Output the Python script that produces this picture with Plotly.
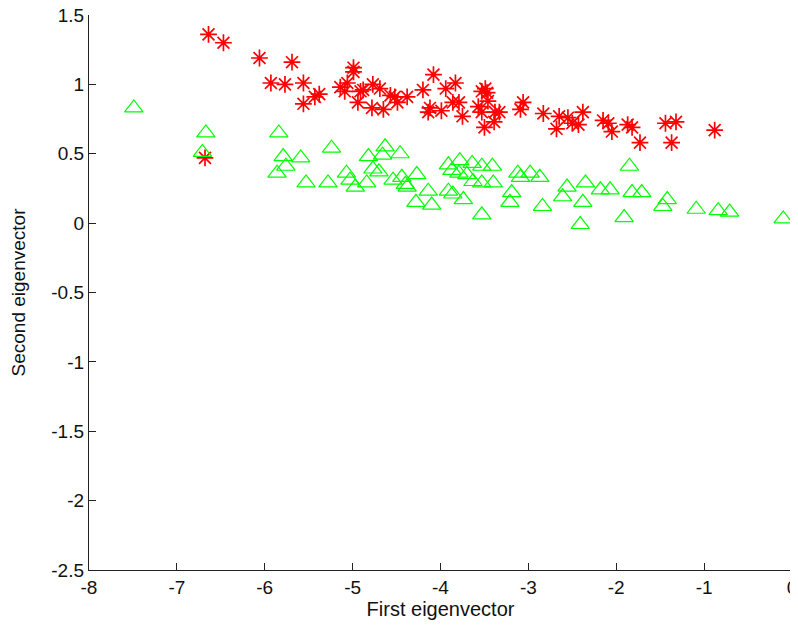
import plotly.graph_objects as go

# Class 1 (red asterisks)
red_x = [-6.64, -6.47, -6.06, -5.69, -5.93, -5.77, -5.56, -5.56, -5.43, -5.38,
         -4.99, -4.99, -5.14, -5.06, -5.09, -4.91, -4.88, -4.94, -4.78, -4.77,
         -4.69, -4.65, -4.57, -4.52, -4.49, -4.38, -4.20, -4.08, -4.12, -4.14,
         -3.94, -3.83, -3.99, -3.86, -3.79, -3.75, -3.53, -3.47, -3.49, -3.46,
         -3.57, -3.53, -3.38, -3.33, -3.39, -3.50, -3.06, -3.09, -2.83, -2.65,
         -2.55, -2.50, -2.68, -2.43, -2.38, -2.15, -2.09, -2.05, -1.87, -1.82,
         -1.73, -1.44, -1.32, -1.37, -0.88, -6.68]
red_y = [1.36, 1.30, 1.19, 1.16, 1.01, 1.00, 1.01, 0.86, 0.91, 0.93,
         1.12, 1.09, 0.98, 1.01, 0.95, 0.95, 0.96, 0.87, 0.83, 1.00,
         0.97, 0.82, 0.92, 0.91, 0.87, 0.91, 0.96, 1.07, 0.83, 0.80,
         0.97, 1.01, 0.81, 0.87, 0.87, 0.77, 0.95, 0.94, 0.97, 0.88,
         0.84, 0.80, 0.80, 0.80, 0.73, 0.69, 0.87, 0.82, 0.79, 0.77,
         0.76, 0.72, 0.68, 0.71, 0.80, 0.74, 0.72, 0.66, 0.71, 0.69,
         0.58, 0.72, 0.73, 0.58, 0.67, 0.47]

# Class 2 (green triangles)
green_x = [-7.49, -6.67, -6.71, -5.84, -5.24, -5.79, -5.76, -5.86, -5.59, -5.53,
           -5.28, -5.07, -5.03, -4.97, -4.84, -4.82, -4.77, -4.70, -4.63, -4.66,
           -4.46, -4.54, -4.44, -4.40, -4.38, -4.27, -4.28, -4.14, -4.10, -3.91,
           -3.87, -3.78, -3.64, -3.53, -3.41, -3.79, -3.70, -3.63, -3.53, -3.40,
           -3.91, -3.86, -3.74, -3.53, -3.12, -3.09, -2.98, -2.87, -3.19, -3.21,
           -2.84, -2.56, -2.61, -2.35, -2.18, -2.07, -2.38, -2.41, -1.85, -1.82,
           -1.71, -1.42, -1.47, -1.91, -1.09, -0.84, -0.71, -0.10]
green_y = [0.83, 0.65, 0.51, 0.65, 0.54, 0.48, 0.41, 0.36, 0.47, 0.29,
           0.29, 0.36, 0.31, 0.26, 0.29, 0.48, 0.39, 0.37, 0.55, 0.49,
           0.50, 0.31, 0.33, 0.28, 0.26, 0.35, 0.15, 0.23, 0.13, 0.42,
           0.38, 0.45, 0.43, 0.41, 0.41, 0.36, 0.35, 0.30, 0.29, 0.29,
           0.23, 0.21, 0.17, 0.06, 0.36, 0.33, 0.36, 0.33, 0.22, 0.15,
           0.12, 0.26, 0.19, 0.29, 0.24, 0.24, 0.15, -0.01, 0.41, 0.22,
           0.22, 0.17, 0.12, 0.04, 0.10, 0.09, 0.08, 0.03]

x_ticks = [-8, -7, -6, -5, -4, -3, -2, -1, 0]
x_tick_labels = ["-8", "-7", "-6", "-5", "-4", "-3", "-2", "-1", "0"]
y_ticks = [-2.5, -2, -1.5, -1, -0.5, 0, 0.5, 1, 1.5]
y_tick_labels = ["-2.5", "-2", "-1.5", "-1", "-0.5", "0", "0.5", "1", "1.5"]

FONT = "Liberation Sans, Arial, Helvetica, sans-serif"
TXT = "#111111"

fig = go.Figure()
fig.add_trace(go.Scatter(
    x=red_x, y=red_y, mode="markers", name="class 1",
    marker=dict(symbol="asterisk-open", size=14, color="red",
                line=dict(color="red", width=1.7)),
))
fig.add_trace(go.Scatter(
    x=green_x, y=green_y, mode="markers", name="class 2",
    marker=dict(symbol="triangle-up-open", size=16, color="#00ff00",
                line=dict(color="#00ff00", width=1.2)),
))

axis_common = dict(
    showgrid=False, zeroline=False, showline=True, linecolor="#222222",
    linewidth=1.3, ticks="inside", ticklen=7, tickcolor="#222222",
    tickwidth=1.3, mirror=False, automargin=False,
    ticklabeloverflow="allow",
    tickfont=dict(family=FONT, size=19, color=TXT),
)

fig.update_layout(
    width=790, height=613,
    margin=dict(l=81, r=6, t=7, b=51),
    paper_bgcolor="white", plot_bgcolor="white",
    showlegend=False,
    font=dict(family=FONT, size=19, color=TXT),
    xaxis=dict(range=[-8, 0], tickvals=x_ticks, ticktext=x_tick_labels,
               title=dict(text="First eigenvector", standoff=0,
                          font=dict(family=FONT, size=20, color=TXT)),
               **axis_common),
    yaxis=dict(range=[-2.5, 1.5], tickvals=y_ticks, ticktext=y_tick_labels,
               title=dict(text="Second eigenvector", standoff=20,
                          font=dict(family=FONT, size=19, color=TXT)),
               **axis_common),
)

fig.write_html("out.html")
